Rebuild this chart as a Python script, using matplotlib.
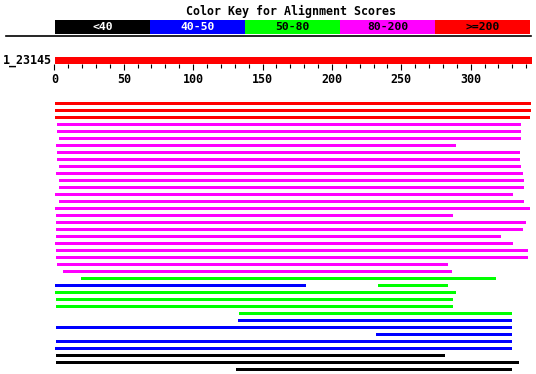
import matplotlib
matplotlib.use('Agg')
import matplotlib.pyplot as plt

# BLAST style graphic overview of hits against the query

query_name = '1_23145'
query_len = 344

key_labels = ['<40', '40-50', '50-80', '80-200', '>=200']
key_colors = ['#000000', '#0000ff', '#00ff00', '#ff00ff', '#ff0000']
key_text_colors = ['white', 'white', 'black', 'black', 'black']

# one entry per aligned segment: row, start, end, score bin
hit_row = [0, 1, 2, 3, 4, 5, 6, 7, 8, 9, 10, 11, 12, 13, 14, 15, 16, 17, 18, 19,
           20, 21, 22, 23, 24, 25, 26, 26, 27, 28, 29, 30, 31, 32, 33, 34, 35, 36, 37, 38]
hit_start = [0.5, 0.5, 0.5, 2, 2, 3.5, 1.2, 2, 2, 3.5, 1.2, 3.5, 3.5, 0.5, 3.5, 0.5, 1.2, 1.2, 1.2, 1.2,
             0.5, 1.2, 1.2, 2, 6.2, 19.2, 0.5, 233.4, 0.5, 1.2, 1.2, 133.1, 132.4, 1.2, 231.9, 1.2, 0.5, 1.2, 1.2, 130.9]
hit_end = [343.4, 343.4, 342.6, 336.2, 336.2, 336.2, 289.4, 335.5, 335.5, 336.2, 337.7, 338.4, 338.4, 330.5, 338.4, 342.6, 287.2, 339.9, 337.7, 321.9,
           330.5, 341.4, 341.4, 283.7, 286.4, 318.2, 181.2, 283.7, 289.4, 287.2, 287.2, 329.8, 329.8, 329.8, 329.8, 329.8, 329.8, 281.5, 334.7, 329.8]
hit_bin = [4, 4, 4, 3, 3, 3, 3, 3, 3, 3, 3, 3, 3, 3, 3, 3, 3, 3, 3, 3,
           3, 3, 3, 3, 3, 2, 1, 2, 2, 2, 2, 2, 1, 1, 1, 1, 1, 0, 0, 0]

W, H = 536, 374
fig = plt.figure(figsize=(W / 100, H / 100), dpi=100)
mono = 'DejaVu Sans Mono'

x0 = 54.3          # pixel of position 0
ppu = 1.388        # pixels per sequence unit
xmax = 350


def px_axes(left, top, width, height):
    return fig.add_axes([left / W, 1 - (top + height) / H, width / W, height / H])


# title and color key
fig.text(291 / W, 1 - 11.5 / H, 'Color Key for Alignment Scores', ha='center', va='center',
         family=mono, fontsize=8.4, fontweight='bold')
kax = px_axes(55, 20, 475, 13.5)
kax.barh(0, [1] * 5, left=range(5), height=1, color=key_colors)
for i, lab in enumerate(key_labels):
    kax.text(i + 0.5, 0, lab, ha='center', va='center', color=key_text_colors[i],
             family=mono, fontsize=8.2, fontweight='bold')
kax.set_xlim(0, 5)
kax.set_ylim(-0.5, 0.5)
kax.axis('off')

# separator line
fig.add_artist(plt.Line2D([6 / W, 531 / W], [1 - 35.5 / H] * 2, color='black', lw=1.2))

# query bar with ruler
qax = px_axes(x0, 57, xmax * ppu, 6.5)
qax.barh(0, query_len, left=0.5, height=1, color='#ff0000')
qax.set_xlim(0, xmax)
qax.set_ylim(-0.5, 0.5)
for s in qax.spines.values():
    s.set_visible(False)
qax.set_yticks([])
qax.set_xticks(range(0, 301, 50))
qax.set_xticks(range(0, 341, 10), minor=True)
qax.tick_params(axis='x', which='major', length=4.3, width=0.8, pad=2.2, direction='out')
qax.tick_params(axis='x', which='minor', length=2.9, width=0.8, direction='out')
for t in qax.get_xticklabels():
    t.set_family(mono)
    t.set_fontsize(8.4)
    t.set_fontweight('bold')
fig.text(52 / W, 1 - 60.5 / H, query_name, ha='right', va='center',
         family=mono, fontsize=8.4, fontweight='bold')

# hits
hax = px_axes(x0, 100, xmax * ppu, 273)
widths = [e - s for s, e in zip(hit_start, hit_end)]
colors = [key_colors[b] for b in hit_bin]
hax.barh(hit_row, widths, left=hit_start, height=3 / 7, color=colors)
hax.set_xlim(0, xmax)
hax.set_ylim(38.5, -0.5)
hax.axis('off')

fig.savefig('out.png', dpi=100)
